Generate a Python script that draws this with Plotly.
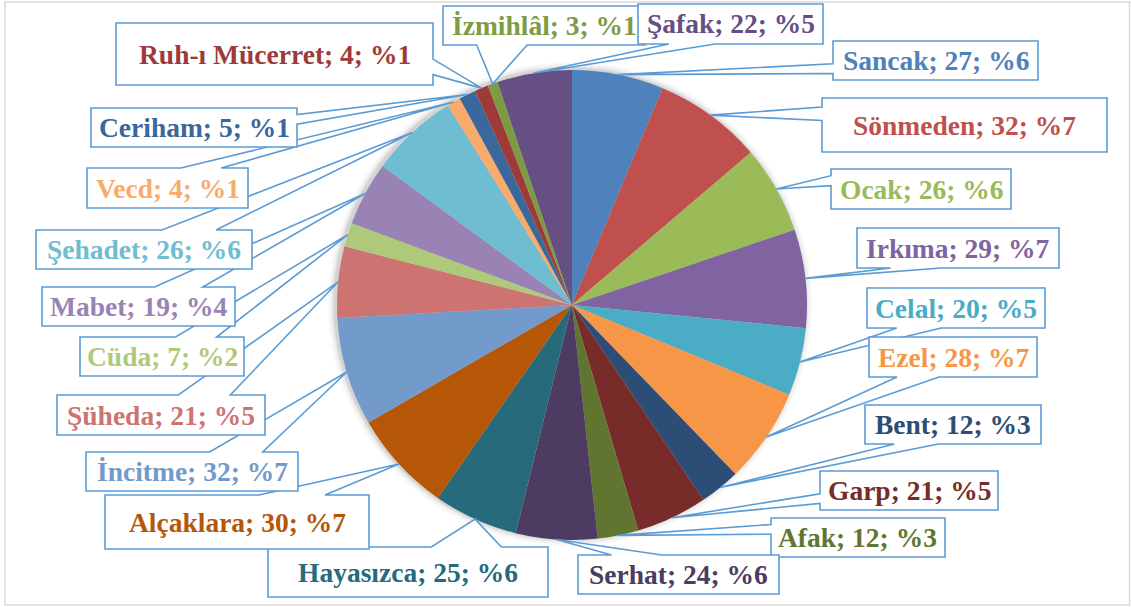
import math
import plotly.graph_objects as go

# ---------------- data ----------------
names = ["Sancak", "Sönmeden", "Ocak", "Irkıma", "Celal", "Ezel", "Bent", "Garp",
         "Afak", "Serhat", "Hayasızca", "Alçaklara", "İncitme", "Şüheda", "Cüda",
         "Mabet", "Şehadet", "Vecd", "Ceriham", "Ruh-ı Mücerret", "İzmihlâl", "Şafak"]
values = [27, 32, 26, 29, 20, 28, 12, 21, 12, 24, 25, 30, 32, 21, 7, 19, 26, 4, 5, 4, 3, 22]

# ---------------- styles ----------------
colors = ["#4F81BD", "#C0504D", "#9BBB59", "#8064A2", "#4BACC6", "#F79646",
          "#2C4D75", "#772C2A", "#5F7530", "#4D3B62", "#276A7C", "#B65708",
          "#729ACA", "#CD7371", "#AFC97A", "#9983B5", "#6FBDD1", "#F9AB6B",
          "#3A679C", "#9E3B39", "#7E9B43", "#654F83"]

# label callout boxes (pixel layout positions: x0, y0, x1, y1)
label_boxes = [
    (833, 41, 1038, 80), (822, 98, 1107, 152), (831, 169, 1011, 209),
    (857, 228, 1059, 268), (867, 288, 1045, 328), (869, 337, 1037, 377),
    (865, 405, 1041, 444), (820, 471, 998, 510), (771, 518, 945, 557),
    (578, 555, 779, 594), (268, 547, 548, 597), (105, 495, 369, 549),
    (86, 452, 298, 491), (57, 395, 265, 435), (80, 337, 244, 376),
    (42, 287, 235, 326), (36, 230, 252, 269), (87, 168, 248, 208),
    (91, 108, 297, 147), (116, 23, 433, 85), (443, 6, 645, 45),
    (638, 4, 823, 44),
]

W, H = 1132, 607
CX, CY, R = 572, 305, 235
BORDER = "#5B9BD5"
FONT = "Liberation Serif"


def px(x):
    return x / W


def py(y):
    return 1 - y / H


def callout_path(box, tx, ty):
    x0, y0, x1, y1 = box
    w, h = x1 - x0, y1 - y0
    cx, cy = (x0 + x1) / 2, (y0 + y1) / 2
    dx, dy = tx - cx, ty - cy
    if abs(dy) / h > abs(dx) / w:
        a = x0 + w * (7 / 12 if dx > 0 else 2 / 12)
        b = x0 + w * (10 / 12 if dx > 0 else 5 / 12)
        if dy < 0:
            pts = [(x0, y0), (a, y0), (tx, ty), (b, y0), (x1, y0), (x1, y1), (x0, y1)]
        else:
            pts = [(x0, y0), (x1, y0), (x1, y1), (b, y1), (tx, ty), (a, y1), (x0, y1)]
    else:
        a = y0 + h * (7 / 12 if dy > 0 else 2 / 12)
        b = y0 + h * (10 / 12 if dy > 0 else 5 / 12)
        if dx < 0:
            pts = [(x0, y0), (x1, y0), (x1, y1), (x0, y1), (x0, b), (tx, ty), (x0, a)]
        else:
            pts = [(x0, y0), (x1, y0), (x1, a), (tx, ty), (x1, b), (x1, y1), (x0, y1)]
    return "M " + " L ".join(f"{px(X):.5f},{py(Y):.5f}" for X, Y in pts) + " Z"


fig = go.Figure()

# soft shadow behind the pie
for dr, alpha in [(7, 0.025), (5, 0.035), (3, 0.05), (1.5, 0.07)]:
    scx, scy = CX - 2, CY - 1
    fig.add_trace(go.Pie(
        values=[1], marker=dict(colors=[f"rgba(0,0,0,{alpha})"], line=dict(width=0)),
        textinfo="none", hoverinfo="skip", sort=False,
        domain=dict(x=[px(scx - R - dr), px(scx + R + dr)],
                    y=[py(scy + R + dr), py(scy - R - dr)]),
    ))

fig.add_trace(go.Pie(
    labels=names, values=values, sort=False, direction="clockwise", rotation=0,
    marker=dict(colors=colors, line=dict(width=0)),
    textinfo="none", hoverinfo="label+value+percent",
    domain=dict(x=[px(CX - R), px(CX + R)], y=[py(CY + R), py(CY - R)]),
))

total = sum(values)
shapes = [dict(type="rect", xref="paper", yref="paper",
               x0=px(5), x1=px(1129.5), y0=py(2), y1=py(605),
               line=dict(color="#D9D9D9", width=1.5), fillcolor="rgba(0,0,0,0)",
               layer="below")]
annotations = []
cum = 0
for name, v, col, box in zip(names, values, colors, label_boxes):
    theta = 2 * math.pi * (cum + v / 2) / total
    cum += v
    tx = CX + R * math.sin(theta)
    ty = CY - R * math.cos(theta)
    shapes.append(dict(type="path", xref="paper", yref="paper",
                       path=callout_path(box, tx, ty),
                       fillcolor="white", line=dict(color=BORDER, width=1.6),
                       layer="above"))
    pct = round(100 * v / total)
    annotations.append(dict(
        xref="paper", yref="paper",
        x=px((box[0] + box[2]) / 2), y=py((box[1] + box[3]) / 2),
        xanchor="center", yanchor="middle", showarrow=False,
        text=f"<b>{name}; {v}; %{pct}</b>",
        font=dict(family=FONT, size=27.5, color=col),
    ))

fig.update_layout(
    width=W, height=H, margin=dict(l=0, r=0, t=0, b=0),
    paper_bgcolor="white", plot_bgcolor="white", showlegend=False,
    shapes=shapes, annotations=annotations,
)

fig.write_html("out.html",
               config={"displayModeBar": False},
               post_script="document.body.style.margin='0px';"
                           "document.body.style.overflow='hidden';")
